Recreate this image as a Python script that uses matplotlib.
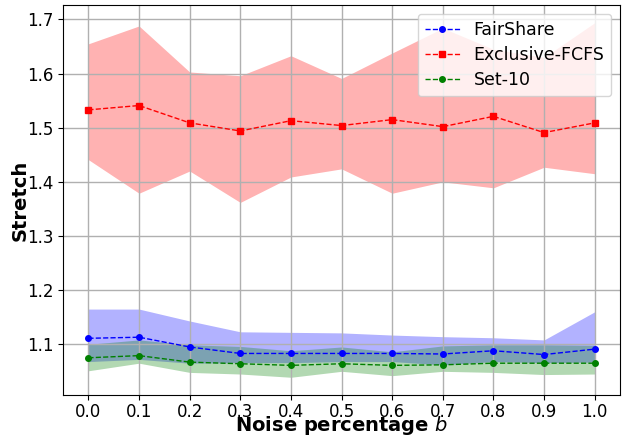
import matplotlib
matplotlib.use('Agg')
import matplotlib.pyplot as plt
import numpy as np

noise = [0.0, 0.1, 0.2, 0.3, 0.4, 0.5, 0.6, 0.7, 0.8, 0.9, 1.0]

fair_mean = [1.111, 1.113, 1.095, 1.083, 1.083, 1.083, 1.083, 1.082, 1.088, 1.081, 1.091]
fair_low = [1.068, 1.072, 1.065, 1.066, 1.066, 1.068, 1.068, 1.062, 1.068, 1.066, 1.067]
fair_high = [1.165, 1.165, 1.143, 1.123, 1.122, 1.121, 1.117, 1.114, 1.112, 1.108, 1.160]

excl_mean = [1.533, 1.541, 1.509, 1.494, 1.513, 1.504, 1.515, 1.502, 1.521, 1.491, 1.509]
excl_low = [1.441, 1.379, 1.420, 1.362, 1.409, 1.424, 1.379, 1.400, 1.389, 1.427, 1.415]
excl_high = [1.655, 1.688, 1.603, 1.596, 1.633, 1.591, 1.638, 1.684, 1.645, 1.630, 1.694]

set_mean = [1.075, 1.079, 1.067, 1.064, 1.061, 1.064, 1.061, 1.062, 1.065, 1.065, 1.065]
set_low = [1.051, 1.065, 1.048, 1.045, 1.039, 1.050, 1.042, 1.050, 1.048, 1.044, 1.045]
set_high = [1.100, 1.108, 1.099, 1.096, 1.088, 1.095, 1.086, 1.097, 1.099, 1.099, 1.098]

fig, ax = plt.subplots(figsize=(6.31, 4.37), dpi=100)
fig.subplots_adjust(left=0.1, right=0.9826, top=0.9886, bottom=0.0961)

ax.plot(noise, fair_mean, '--o', color='blue', lw=1, ms=4, label='FairShare')
ax.fill_between(noise, fair_low, fair_high, color='blue', alpha=0.3, lw=0)
ax.plot(noise, excl_mean, '--s', color='red', lw=1, ms=4, label='Exclusive-FCFS')
ax.fill_between(noise, excl_low, excl_high, color='red', alpha=0.3, lw=0)
ax.plot(noise, set_mean, '--o', color='green', lw=1, ms=4, label='Set-10')
ax.fill_between(noise, set_low, set_high, color='green', alpha=0.3, lw=0)

ax.set_xticks(noise)
ax.tick_params(labelsize=12)
ax.tick_params(axis='x', pad=2)
ax.grid(True, lw=1)
ax.set_xlabel('Noise percentage $b$', fontsize=14, fontweight='bold', labelpad=-4.5)
ax.set_ylabel('Stretch', fontsize=14, fontweight='bold', labelpad=-2)
ax.legend(loc='upper right', fontsize=12.5, labelspacing=0.42)

plt.savefig('out.png')
